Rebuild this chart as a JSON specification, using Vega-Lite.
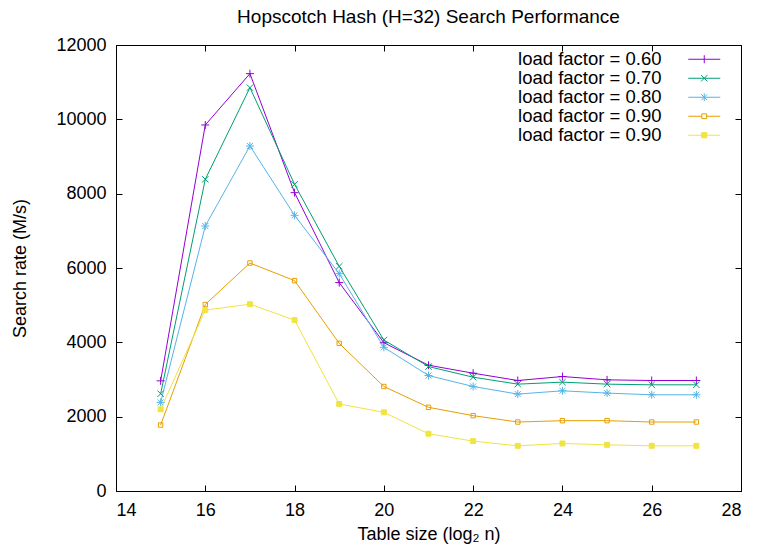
{
  "$schema": "https://vega.github.io/schema/vega-lite/v6.json",
  "width": 625,
  "height": 446,
  "autosize": {"type": "none"},
  "padding": {"left": 116, "top": 45, "right": 17, "bottom": 59},
  "title": {"text": "Hopscotch Hash (H=32) Search Performance", "fontSize": 19, "fontWeight": "normal", "font": "Liberation Sans", "color": "#000", "anchor": "middle", "offset": 9},
  "config": {
    "font": "Liberation Sans",
    "view": {"stroke": "#000", "strokeWidth": 1},
    "axis": {"grid": false, "domainColor": "#000", "tickColor": "#000", "labelColor": "#000", "titleColor": "#000", "labelFontSize": 18, "titleFontSize": 18, "titleFontWeight": "normal", "labelFont": "Liberation Sans", "titleFont": "Liberation Sans", "tickSize": -6, "labelPadding": 16}
  },
  "data": {"values": [
    {"x": 15, "series": "0.60", "rate": 2964}, {"x": 16, "series": "0.60", "rate": 9848}, {"x": 17, "series": "0.60", "rate": 11229}, {"x": 18, "series": "0.60", "rate": 8027}, {"x": 19, "series": "0.60", "rate": 5607}, {"x": 20, "series": "0.60", "rate": 3990}, {"x": 21, "series": "0.60", "rate": 3384}, {"x": 22, "series": "0.60", "rate": 3170}, {"x": 23, "series": "0.60", "rate": 2973}, {"x": 24, "series": "0.60", "rate": 3080}, {"x": 25, "series": "0.60", "rate": 2991}, {"x": 26, "series": "0.60", "rate": 2973}, {"x": 27, "series": "0.60", "rate": 2973},
    {"x": 15, "series": "0.70", "rate": 2616}, {"x": 16, "series": "0.70", "rate": 8386}, {"x": 17, "series": "0.70", "rate": 10852}, {"x": 18, "series": "0.70", "rate": 8251}, {"x": 19, "series": "0.70", "rate": 6045}, {"x": 20, "series": "0.70", "rate": 4062}, {"x": 21, "series": "0.70", "rate": 3348}, {"x": 22, "series": "0.70", "rate": 3062}, {"x": 23, "series": "0.70", "rate": 2875}, {"x": 24, "series": "0.70", "rate": 2929}, {"x": 25, "series": "0.70", "rate": 2875}, {"x": 26, "series": "0.70", "rate": 2857}, {"x": 27, "series": "0.70", "rate": 2857},
    {"x": 15, "series": "0.80", "rate": 2384}, {"x": 16, "series": "0.80", "rate": 7130}, {"x": 17, "series": "0.80", "rate": 9283}, {"x": 18, "series": "0.80", "rate": 7417}, {"x": 19, "series": "0.80", "rate": 5848}, {"x": 20, "series": "0.80", "rate": 3866}, {"x": 21, "series": "0.80", "rate": 3107}, {"x": 22, "series": "0.80", "rate": 2812}, {"x": 23, "series": "0.80", "rate": 2607}, {"x": 24, "series": "0.80", "rate": 2696}, {"x": 25, "series": "0.80", "rate": 2634}, {"x": 26, "series": "0.80", "rate": 2589}, {"x": 27, "series": "0.80", "rate": 2589},
    {"x": 15, "series": "0.90 open", "rate": 1775}, {"x": 16, "series": "0.90 open", "rate": 5018}, {"x": 17, "series": "0.90 open", "rate": 6134}, {"x": 18, "series": "0.90 open", "rate": 5660}, {"x": 19, "series": "0.90 open", "rate": 3973}, {"x": 20, "series": "0.90 open", "rate": 2812}, {"x": 21, "series": "0.90 open", "rate": 2252}, {"x": 22, "series": "0.90 open", "rate": 2027}, {"x": 23, "series": "0.90 open", "rate": 1856}, {"x": 24, "series": "0.90 open", "rate": 1892}, {"x": 25, "series": "0.90 open", "rate": 1892}, {"x": 26, "series": "0.90 open", "rate": 1856}, {"x": 27, "series": "0.90 open", "rate": 1856},
    {"x": 15, "series": "0.90 filled", "rate": 2198}, {"x": 16, "series": "0.90 filled", "rate": 4866}, {"x": 17, "series": "0.90 filled", "rate": 5027}, {"x": 18, "series": "0.90 filled", "rate": 4598}, {"x": 19, "series": "0.90 filled", "rate": 2342}, {"x": 20, "series": "0.90 filled", "rate": 2117}, {"x": 21, "series": "0.90 filled", "rate": 1541}, {"x": 22, "series": "0.90 filled", "rate": 1342}, {"x": 23, "series": "0.90 filled", "rate": 1216}, {"x": 24, "series": "0.90 filled", "rate": 1279}, {"x": 25, "series": "0.90 filled", "rate": 1243}, {"x": 26, "series": "0.90 filled", "rate": 1216}, {"x": 27, "series": "0.90 filled", "rate": 1216}
  ]},
  "layer": [
    {
      "encoding": {
        "x": {"field": "x", "type": "quantitative", "scale": {"domain": [14, 28], "nice": false, "zero": false}, "axis": {"values": [14, 16, 18, 20, 22, 24, 26, 28], "title": "Table size (log₂ n)", "titlePadding": 6}},
        "y": {"field": "rate", "type": "quantitative", "scale": {"domain": [0, 12000], "nice": false}, "axis": {"values": [0, 2000, 4000, 6000, 8000, 10000, 12000], "format": "d", "title": "Search rate (M/s)", "titlePadding": 26}}
      },
      "layer": [
        {
          "mark": {"type": "line", "strokeWidth": 1},
          "encoding": {
            "color": {
              "field": "series", "type": "nominal",
              "scale": {"domain": ["0.60", "0.70", "0.80", "0.90 open", "0.90 filled"], "range": ["#9400d3", "#009e73", "#56b4e9", "#e69f00", "#f0e442"]},
              "legend": {
                "orient": "none", "legendX": 579, "legendY": 5, "title": null, "labelFontSize": 18.5, "labelColor": "#000", "labelFont": "Liberation Sans",
                "labelExpr": "'load factor = ' + slice(datum.label, 0, 4)", "labelAlign": "right", "labelOffset": -52, "symbolSize": 64, "rowPadding": -2.2, "symbolStrokeWidth": 1,
                "encode": {
                  "symbols": {"update": {
                    "shape": {"signal": "datum.value === '0.60' ? 'M-4,0L4,0M0,-1L0,1' : datum.value === '0.70' ? 'M-4,0L4,0M-0.8,-0.8L0.8,0.8M-0.8,0.8L0.8,-0.8' : datum.value === '0.80' ? 'M-4,0L4,0M0,-1L0,1M-0.75,-0.75L0.75,0.75M-0.75,0.75L0.75,-0.75' : datum.value === '0.90 open' ? 'M-4,0L-0.6,0M0.6,0L4,0M-0.6,-0.6L0.6,-0.6L0.6,0.6L-0.6,0.6Z' : 'M-4,0L4,0M-0.65,-0.65L0.65,-0.65L0.65,0.65L-0.65,0.65Z'"},
                    "fill": {"signal": "datum.value === '0.90 filled' ? '#f0e442' : 'transparent'"},
                    "strokeWidth": {"value": 1}
                  }}
                }
              }
            }
          }
        },
        {"transform": [{"filter": "datum.series === '0.60'"}], "mark": {"type": "point", "shape": "M-1,0L1,0M0,-1L0,1", "stroke": "#9400d3", "fill": "transparent", "size": 64, "strokeWidth": 1, "opacity": 1}},
        {"transform": [{"filter": "datum.series === '0.70'"}], "mark": {"type": "point", "shape": "M-0.8,-0.8L0.8,0.8M-0.8,0.8L0.8,-0.8", "stroke": "#009e73", "fill": "transparent", "size": 64, "strokeWidth": 1, "opacity": 1}},
        {"transform": [{"filter": "datum.series === '0.80'"}], "mark": {"type": "point", "shape": "M-1,0L1,0M0,-1L0,1M-0.75,-0.75L0.75,0.75M-0.75,0.75L0.75,-0.75", "stroke": "#56b4e9", "fill": "transparent", "size": 64, "strokeWidth": 1, "opacity": 1}},
        {"transform": [{"filter": "datum.series === '0.90 open'"}], "mark": {"type": "point", "shape": "M-0.55,-0.55L0.55,-0.55L0.55,0.55L-0.55,0.55Z", "stroke": "#e69f00", "fill": "transparent", "size": 64, "strokeWidth": 1, "opacity": 1}},
        {"transform": [{"filter": "datum.series === '0.90 filled'"}], "mark": {"type": "point", "shape": "M-0.62,-0.62L0.62,-0.62L0.62,0.62L-0.62,0.62Z", "stroke": "#f0e442", "fill": "#f0e442", "size": 64, "strokeWidth": 1, "opacity": 1}}
      ]
    },
    {
      "mark": {"type": "point", "opacity": 0},
      "encoding": {
        "x": {"field": "x", "type": "quantitative", "scale": {"domain": [14, 28], "nice": false, "zero": false}, "axis": {"orient": "top", "values": [14, 16, 18, 20, 22, 24, 26, 28], "labels": false, "title": null, "domain": false}},
        "y": {"field": "rate", "type": "quantitative", "scale": {"domain": [0, 12000], "nice": false}, "axis": {"orient": "right", "values": [0, 2000, 4000, 6000, 8000, 10000, 12000], "labels": false, "title": null, "domain": false}}
      }
    }
  ],
  "resolve": {"scale": {"x": "independent", "y": "independent"}, "axis": {"x": "independent", "y": "independent"}}
}
